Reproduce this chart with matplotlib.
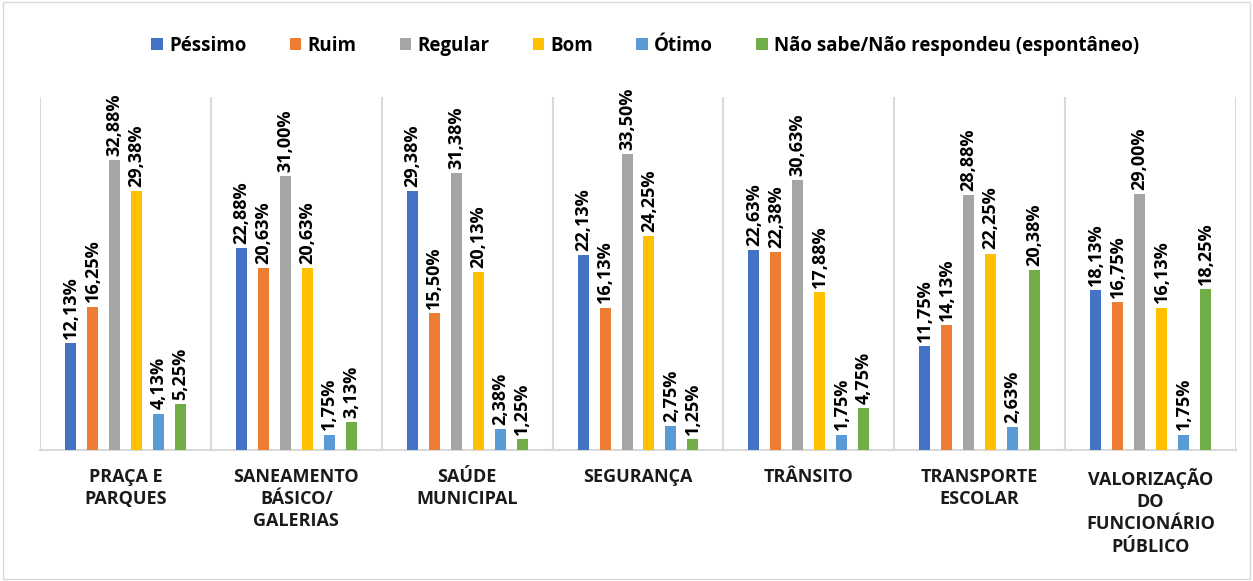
import matplotlib
matplotlib.use("Agg")
import matplotlib.pyplot as plt
from matplotlib.patches import Rectangle
import numpy as np

categories = ["PRAÇA E\nPARQUES", "SANEAMENTO\nBÁSICO/\nGALERIAS", "SAÚDE\nMUNICIPAL",
              "SEGURANÇA", "TRÂNSITO", "TRANSPORTE\nESCOLAR",
              "VALORIZAÇÃO\nDO\nFUNCIONÁRIO\nPÚBLICO"]
series_names = ["Péssimo", "Ruim", "Regular", "Bom", "Ótimo", "Não sabe/Não respondeu (espontâneo)"]
pessimo = [12.13, 22.88, 29.38, 22.13, 22.63, 11.75, 18.13]
ruim = [16.25, 20.63, 15.50, 16.13, 22.38, 14.13, 16.75]
regular = [32.88, 31.00, 31.38, 33.50, 30.63, 28.88, 29.00]
bom = [29.38, 20.63, 20.13, 24.25, 17.88, 22.25, 16.13]
otimo = [4.13, 1.75, 2.38, 2.75, 1.75, 2.63, 1.75]
nao_sabe = [5.25, 3.13, 1.25, 1.25, 4.75, 20.38, 18.25]
series = [pessimo, ruim, regular, bom, otimo, nao_sabe]
colors = ["#4472C4", "#ED7D31", "#A5A5A5", "#FFC000", "#5B9BD5", "#70AD47"]

plt.rcParams['font.family'] = ['Open Sans', 'DejaVu Sans']

fig = plt.figure(figsize=(12.53, 5.81), dpi=100)
ax = fig.add_axes([40/1253, 1-450/581, (1236-40)/1253, (450-97)/581])

x = np.arange(len(categories))
slot = 22/171
bw = 11/171
n = len(series)
for i, (vals, c, name) in enumerate(zip(series, colors, series_names)):
    pos = x + (i - (n-1)/2) * slot
    ax.bar(pos, vals, width=bw, color=c, label=name, zorder=3)
    for xp, v in zip(pos, vals):
        ax.annotate(f"{v:.2f}%".replace(".", ","), (xp, v), xytext=(0, 3),
                    textcoords="offset points", rotation=90, ha="center", va="bottom",
                    fontsize=13, fontweight="bold", color="black")

ax.set_xlim(-0.5, len(categories)-0.5)
ax.set_ylim(0, 40)
ax.set_yticks([])
for s in ["top", "right", "left"]:
    ax.spines[s].set_visible(False)
ax.spines["bottom"].set_color("#D9D9D9")
ax.spines["bottom"].set_linewidth(1.5)
for b in np.arange(-0.5, len(categories), 1.0):
    ax.axvline(b, color="#D9D9D9", linewidth=1.5, zorder=1)
ax.set_xticks(x)
ax.set_xticklabels(categories, fontsize=13, fontweight="bold", color="#1a1a1a",
                   linespacing=1.3, va="top")
ax.tick_params(axis="x", length=0, pad=13)

fig.legend(loc="center", bbox_to_anchor=(0.515, 1-46/581), ncol=6, frameon=False,
           prop={"size": 13.5, "weight": "bold"}, handlelength=0.6, handleheight=0.6,
           handletextpad=0.35, columnspacing=2.3)

fig.patches.append(Rectangle((0.002, 0.003), 0.996, 0.994, transform=fig.transFigure,
                             fill=False, edgecolor="#D9D9D9", linewidth=1))

fig.savefig("out.png", dpi=100)
